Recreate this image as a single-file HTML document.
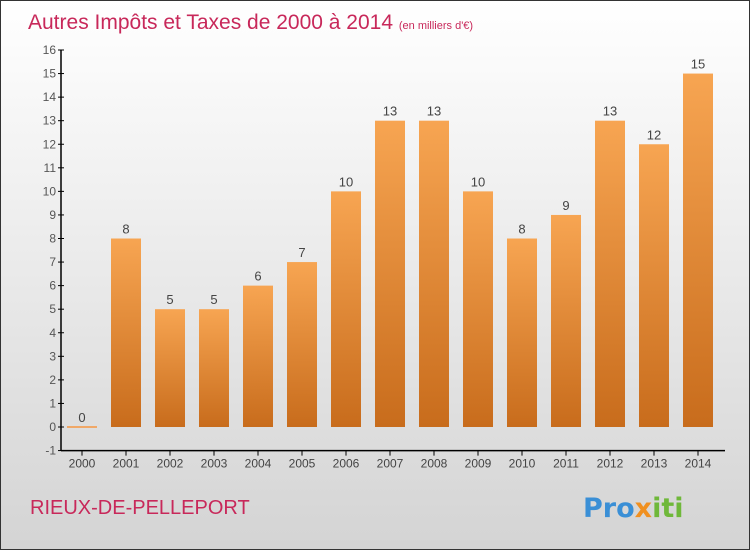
<!DOCTYPE html>
<html><head><meta charset="utf-8"><style>
body{margin:0;}
#wrap{width:750px;height:550px;position:relative;box-sizing:border-box;border:1px solid #333;background:linear-gradient(#ffffff,#d4d4d4);font-family:"Liberation Sans",sans-serif;overflow:hidden;}
</style></head><body>
<div id="wrap">
<svg id="chart" width="750" height="550" style="position:absolute;left:-1px;top:-1px">
<defs><linearGradient id="bg" x1="0" y1="0" x2="0" y2="1"><stop offset="0" stop-color="#f7a552"/><stop offset="1" stop-color="#c86c1c"/></linearGradient></defs>
<text x="28" y="29" font-size="21" fill="#c8285a" font-family="'Liberation Sans',sans-serif">Autres Impôts et Taxes de 2000 à 2014 <tspan font-size="11">(en milliers d'€)</tspan></text>
<text x="30" y="514" font-size="20" fill="#c8285a" font-family="'Liberation Sans',sans-serif">RIEUX-DE-PELLEPORT</text>
<text x="583" y="517" font-size="27" font-weight="bold" font-family="'DejaVu Sans',sans-serif"><tspan fill="#3a8fd6">Pro</tspan><tspan fill="#f09020">x</tspan><tspan fill="#6fb83a">iti</tspan></text>
<g id="g" font-family="'Liberation Sans',sans-serif"></g>
</svg>
</div>
<script>
const years=["2000","2001","2002","2003","2004","2005","2006","2007","2008","2009","2010","2011","2012","2013","2014"];
const values=[0,8,5,5,6,7,10,13,13,10,8,9,13,12,15];
const yTicks=[-1,0,1,2,3,4,5,6,7,8,9,10,11,12,13,14,15,16];
const NS="http://www.w3.org/2000/svg";
const g=document.getElementById('g');
const y=v=>427-(v)*23.5625;
const x=i=>82+i*44;
function mk(t,a){const e=document.createElementNS(NS,t);for(const k in a)e.setAttribute(k,a[k]);g.appendChild(e);return e;}
let ax=mk('line',{x1:61,y1:y(16),x2:61,y2:y(-1),stroke:'#000','stroke-width':1.5});


let bx=mk('line',{x1:61,y1:y(-1),x2:725,y2:y(-1),stroke:'#000','stroke-width':1.5});


yTicks.forEach(v=>{
 const t=mk('line',{x1:58,x2:64,y1:y(v),y2:y(v),stroke:'#000'});
 
 
 const l=mk('text',{x:56,y:y(v)+4,'text-anchor':'end','font-size':12,fill:'#555'});
 l.textContent=v;
 
 
});
years.forEach((yr,i)=>{
 const cx=x(i), v=values[i];
 const t=mk('line',{x1:cx,x2:cx,y1:y(-1),y2:y(-1)+5,stroke:'#000'});
 
 
 const l=mk('text',{x:cx,y:y(-1)+17,'text-anchor':'middle','font-size':12,fill:'#444'});
 l.textContent=yr;
 
 
 const h=Math.max(Math.abs(y(v)-y(0)),2);
 const b=mk('rect',{x:cx-15,y:Math.min(y(v),y(0)-1),width:30,height:h,fill:v===0?'#f0a868':'url(#bg)'});
 
 
 const vl=mk('text',{x:cx,y:y(v)-5,'text-anchor':'middle','font-size':13,fill:'#444'});
 vl.textContent=v;
 
 
});
</script>
</body></html>
